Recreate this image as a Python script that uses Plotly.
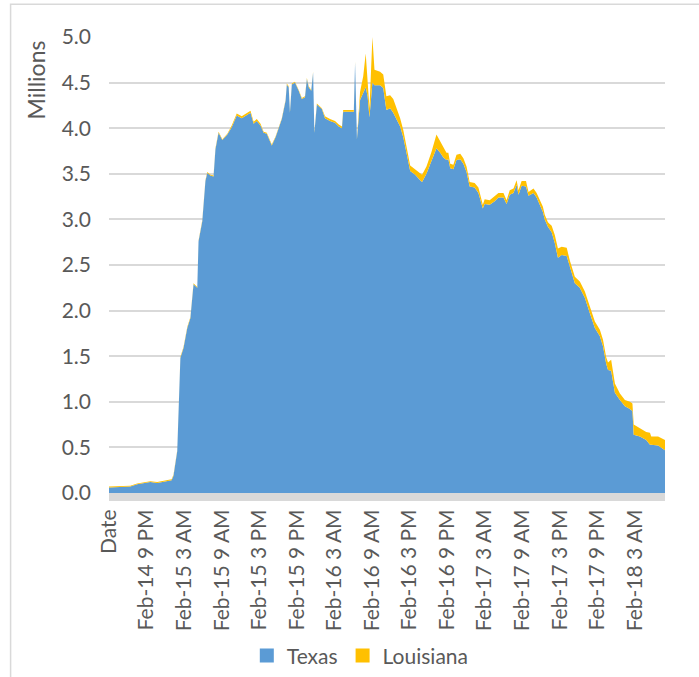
import plotly.graph_objects as go

# hours since Feb-14 3 PM (first category labelled "Date")
hours = [0.0, 1.0, 2.0, 3.4, 4.5, 5.5, 6.6, 7.7, 8.5, 9.3, 10.0, 10.3, 10.9, 11.4, 11.9,
         12.5, 13.0, 13.5, 14.1, 14.3, 14.9, 15.4, 15.7, 16.2, 16.7, 17.0, 17.5, 18.1, 18.9,
         19.6, 20.4, 21.2, 21.8, 22.6, 23.1, 23.6, 24.2, 24.7, 25.2, 26.0, 26.6, 27.1, 27.6,
         28.2, 28.4, 28.7, 28.9, 29.2, 29.7, 30.3, 30.8, 31.3, 31.6, 31.9, 32.3, 32.6, 32.8,
         33.2, 34.0, 34.5, 35.3, 36.1, 36.7, 37.2, 37.4, 38.5, 39.1, 39.3, 39.6, 40.1, 40.6,
         41.0, 41.3, 41.6, 42.07, 42.4, 43.3, 43.8, 44.3, 44.9, 45.4, 46.0, 46.5, 47.0, 47.3,
         47.6, 48.1, 48.9, 49.7, 50.0, 50.7, 51.5, 52.3, 52.9, 53.4, 53.9, 54.2, 54.5, 55.0,
         55.5, 56.1, 56.6, 57.1, 57.6, 58.4, 59.0, 59.7, 60.0, 60.8, 61.6, 62.2, 63.0, 63.5,
         64.0, 64.6, 65.1, 65.4, 65.9, 66.6, 67.0, 67.8, 68.3, 68.8, 69.3, 69.6, 70.1, 70.7,
         71.2, 71.7, 72.3, 73.1, 73.6, 74.4, 75.2, 76.0, 76.8, 77.6, 78.4, 78.9, 79.4, 79.7,
         80.2, 80.8, 81.6, 82.4, 83.2, 83.6, 83.8, 84.8, 85.8, 86.4, 86.6, 87.7, 88.8]

texas = [0.06, 0.065, 0.07, 0.07, 0.095, 0.11, 0.12, 0.11, 0.12, 0.125, 0.14, 0.19, 0.46, 1.48, 1.59,
         1.81, 1.92, 2.29, 2.25, 2.76, 2.98, 3.42, 3.51, 3.48, 3.47, 3.77, 3.95, 3.87, 3.93,
         4.01, 4.14, 4.11, 4.14, 4.17, 4.05, 4.08, 4.03, 3.95, 3.94, 3.81, 3.90, 4.01, 4.10,
         4.30, 4.48, 4.45, 4.17, 4.48, 4.50, 4.41, 4.32, 4.34, 4.54, 4.45, 4.41, 4.61, 3.95,
         4.26, 4.21, 4.11, 4.08, 4.06, 4.02, 4.00, 4.18, 4.18, 4.18, 4.72, 3.88, 4.31, 4.38,
         4.45, 4.35, 4.12, 4.50, 4.47, 4.47, 4.44, 4.20, 4.22, 4.17, 4.09, 4.02, 3.90, 3.78,
         3.70, 3.53, 3.49, 3.43, 3.41, 3.50, 3.64, 3.78, 3.73, 3.68, 3.65, 3.66, 3.56, 3.55,
         3.65, 3.66, 3.61, 3.52, 3.36, 3.35, 3.29, 3.12, 3.17, 3.16, 3.20, 3.24, 3.24, 3.17,
         3.27, 3.29, 3.38, 3.27, 3.37, 3.36, 3.26, 3.29, 3.24, 3.16, 3.08, 3.00, 2.92, 2.86,
         2.74, 2.58, 2.61, 2.60, 2.49, 2.30, 2.25, 2.14, 1.97, 1.81, 1.72, 1.61, 1.42, 1.35,
         1.34, 1.10, 1.02, 0.95, 0.92, 0.90, 0.64, 0.62, 0.58, 0.53, 0.53, 0.52, 0.47]

louisiana = [0.01, 0.01, 0.01, 0.01, 0.01, 0.01, 0.01, 0.01, 0.01, 0.01, 0.01, 0.01, 0.01, 0.01, 0.01,
             0.01, 0.01, 0.01, 0.01, 0.01, 0.01, 0.01, 0.01, 0.01, 0.01, 0.01, 0.01, 0.01, 0.01,
             0.02, 0.02, 0.02, 0.02, 0.02, 0.02, 0.02, 0.02, 0.01, 0.01, 0.01, 0.01, 0.01, 0.01,
             0.01, 0.01, 0.01, 0.01, 0.01, 0.01, 0.01, 0.01, 0.01, 0.01, 0.01, 0.01, 0.01, 0.01,
             0.01, 0.01, 0.02, 0.02, 0.02, 0.02, 0.02, 0.02, 0.02, 0.02, 0.01, 0.01, 0.09, 0.19,
             0.37, 0.12, 0.10, 0.50, 0.17, 0.15, 0.15, 0.15, 0.14, 0.15, 0.11, 0.09, 0.08, 0.07,
             0.07, 0.06, 0.06, 0.07, 0.08, 0.08, 0.10, 0.15, 0.13, 0.12, 0.08, 0.07, 0.05, 0.05,
             0.06, 0.06, 0.06, 0.06, 0.05, 0.05, 0.06, 0.04, 0.05, 0.05, 0.05, 0.05, 0.05, 0.04,
             0.05, 0.05, 0.05, 0.05, 0.05, 0.06, 0.04, 0.05, 0.05, 0.05, 0.06, 0.05, 0.05, 0.07,
             0.09, 0.10, 0.09, 0.09, 0.06, 0.07, 0.07, 0.07, 0.07, 0.07, 0.07, 0.07, 0.07, 0.08,
             0.12, 0.10, 0.07, 0.07, 0.08, 0.08, 0.11, 0.09, 0.09, 0.13, 0.09, 0.10, 0.11]

tick_hours = [0, 6, 12, 18, 24, 30, 36, 42, 48, 54, 60, 66, 72, 78, 84]
tick_labels = ["Date", "Feb-14 9 PM", "Feb-15 3 AM", "Feb-15 9 AM", "Feb-15 3 PM", "Feb-15 9 PM",
               "Feb-16 3 AM", "Feb-16 9 AM", "Feb-16 3 PM", "Feb-16 9 PM", "Feb-17 3 AM",
               "Feb-17 9 AM", "Feb-17 3 PM", "Feb-17 9 PM", "Feb-18 3 AM"]
y_ticks = [0.0, 0.5, 1.0, 1.5, 2.0, 2.5, 3.0, 3.5, 4.0, 4.5, 5.0]

FONT = "Lato, 'Open Sans', sans-serif"
GRAY = "#595959"
BLUE = "#5B9BD5"
GOLD = "#FFC000"

fig = go.Figure()
fig.add_trace(go.Scatter(x=hours, y=texas, name="Texas", stackgroup="one", mode="lines",
                         line=dict(width=0, color=BLUE), fillcolor=BLUE, showlegend=False))
fig.add_trace(go.Scatter(x=hours, y=louisiana, name="Louisiana", stackgroup="one", mode="lines",
                         line=dict(width=0, color=GOLD), fillcolor=GOLD, showlegend=False))
# legend swatches (square markers like the original)
fig.add_trace(go.Scatter(x=[None], y=[None], name="Texas", mode="markers",
                         marker=dict(symbol="square", size=14, color=BLUE)))
fig.add_trace(go.Scatter(x=[None], y=[None], name="Louisiana", mode="markers",
                         marker=dict(symbol="square", size=14, color=GOLD)))

fig.update_layout(
    width=699, height=677,
    margin=dict(l=108.5, r=34, t=37, b=184, autoexpand=False),
    paper_bgcolor="white", plot_bgcolor="white",
    font=dict(family=FONT, size=21, color=GRAY),
    showlegend=True,
    legend=dict(orientation="h", x=0.452, xanchor="center", y=-0.357, yanchor="middle",
                font=dict(size=21, color=GRAY), traceorder="normal", itemwidth=30,
                bgcolor="rgba(0,0,0,0)"),
    xaxis=dict(range=[0, 88.8], tickmode="array", tickvals=tick_hours, ticktext=tick_labels,
               tickangle=-90, showgrid=False, zeroline=False, showline=True,
               linecolor="#D9D9D9", linewidth=8, ticks="", tickfont=dict(size=21, color=GRAY)),
    yaxis=dict(range=[0, 5], tickmode="array", tickvals=y_ticks,
               ticktext=[f"{v:.1f}" for v in y_ticks],
               showgrid=True, gridcolor="#D9D9D9", gridwidth=1.5, zeroline=False,
               showline=False, ticks="", ticklabelstandoff=17,
               tickfont=dict(size=21, color=GRAY)),
    shapes=[dict(type="rect", xref="paper", yref="paper", x0=-0.177, x1=1.2, y0=-0.5, y1=1.072,
                 line=dict(color="#D9D9D9", width=1.5), fillcolor="rgba(0,0,0,0)", layer="below")],
    annotations=[dict(text="Millions", xref="paper", yref="paper", x=-0.131, y=0.905,
                      xanchor="center", yanchor="middle", textangle=-90, showarrow=False,
                      font=dict(size=23, color=GRAY, family=FONT))],
)

fig.write_html("out.html", config={"displayModeBar": False},
               post_script="document.body.style.margin='0px';")
